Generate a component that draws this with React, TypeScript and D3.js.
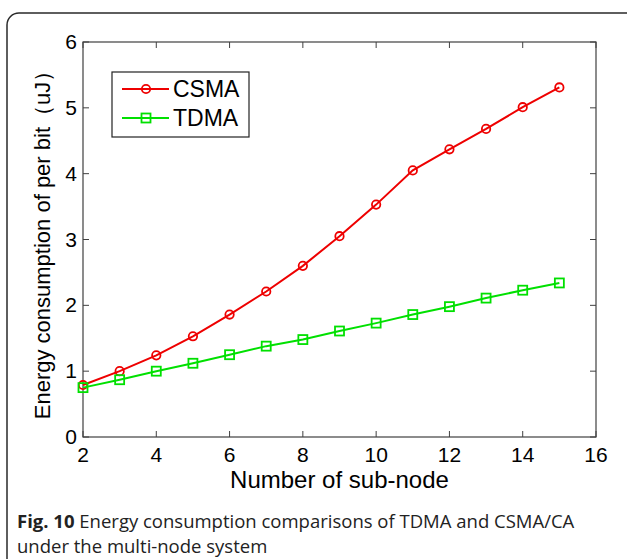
import React, { useEffect, useRef } from 'react';
import * as d3 from 'd3';

const nodes = [2, 3, 4, 5, 6, 7, 8, 9, 10, 11, 12, 13, 14, 15];
const csma = [0.79, 1.0, 1.24, 1.53, 1.86, 2.21, 2.6, 3.05, 3.53, 4.05, 4.37, 4.68, 5.01, 5.31];
const tdma = [0.75, 0.87, 1.0, 1.12, 1.25, 1.38, 1.48, 1.61, 1.73, 1.86, 1.98, 2.11, 2.23, 2.34];
const xTicks = [2, 4, 6, 8, 10, 12, 14, 16];
const yTicks = [0, 1, 2, 3, 4, 5, 6];
const seriesNames = ['CSMA', 'TDMA'];

const W = 627;
const H = 559;
const margin = { top: 42, right: 31, bottom: 122, left: 83 };

const App: React.FC = () => {
  const svgRef = useRef<SVGSVGElement>(null);

  useEffect(() => {
    if (!svgRef.current) return;
    const svg = d3.select(svgRef.current);
    svg.selectAll('*').remove();

    const innerW = W - margin.left - margin.right;
    const innerH = H - margin.top - margin.bottom;

    const x = d3.scaleLinear().domain([2, 16]).range([0, innerW]);
    const y = d3.scaleLinear().domain([0, 6]).range([innerH, 0]);

    // figure frame
    svg.append('rect')
      .attr('x', 7).attr('y', 13)
      .attr('width', 660).attr('height', 600)
      .attr('rx', 12)
      .attr('fill', 'none')
      .attr('stroke', '#2a2a2a')
      .attr('stroke-width', 1.5);

    const g = svg.append('g').attr('transform', `translate(${margin.left},${margin.top})`);
    const font = 'Liberation Sans, Arial, sans-serif';
    const axisColor = '#404040';

    // ticks inward on all sides
    const tickLen = 6;
    xTicks.forEach(t => {
      g.append('line').attr('x1', x(t)).attr('x2', x(t)).attr('y1', innerH).attr('y2', innerH - tickLen)
        .attr('stroke', axisColor);
      g.append('line').attr('x1', x(t)).attr('x2', x(t)).attr('y1', 0).attr('y2', tickLen)
        .attr('stroke', axisColor);
      g.append('text').attr('x', x(t)).attr('y', innerH + 25)
        .attr('text-anchor', 'middle').attr('font-family', font).attr('font-size', 21)
        .attr('fill', '#000').text(t);
    });
    yTicks.forEach(t => {
      g.append('line').attr('x1', 0).attr('x2', tickLen).attr('y1', y(t)).attr('y2', y(t))
        .attr('stroke', axisColor);
      g.append('line').attr('x1', innerW).attr('x2', innerW - tickLen).attr('y1', y(t)).attr('y2', y(t))
        .attr('stroke', axisColor);
      g.append('text').attr('x', -6).attr('y', y(t) + 7)
        .attr('text-anchor', 'end').attr('font-family', font).attr('font-size', 21)
        .attr('fill', '#000').text(t);
    });

    g.append('rect').attr('width', innerW).attr('height', innerH)
      .attr('fill', 'none').attr('stroke', axisColor).attr('stroke-width', 1.2);

    const line = d3.line<number>()
      .x((_, i) => x(nodes[i]))
      .y(d => y(d));

    const red = '#ee0000';
    const green = '#00e000';

    g.append('path').datum(csma).attr('d', line)
      .attr('fill', 'none').attr('stroke', red).attr('stroke-width', 2);
    g.selectAll('.c').data(csma).enter().append('circle')
      .attr('cx', (_, i) => x(nodes[i])).attr('cy', d => y(d)).attr('r', 4.2)
      .attr('fill', 'none').attr('stroke', red).attr('stroke-width', 1.8);

    g.append('path').datum(tdma).attr('d', line)
      .attr('fill', 'none').attr('stroke', green).attr('stroke-width', 2);
    g.selectAll('.s').data(tdma).enter().append('rect')
      .attr('x', (_, i) => x(nodes[i]) - 4.5).attr('y', d => y(d) - 4.5)
      .attr('width', 9).attr('height', 9)
      .attr('fill', 'none').attr('stroke', green).attr('stroke-width', 1.8);

    // legend
    const lg = svg.append('g');
    lg.append('rect').attr('x', 112).attr('y', 72).attr('width', 137).attr('height', 65)
      .attr('fill', '#fff').attr('stroke', '#222').attr('stroke-width', 1.2);
    seriesNames.forEach((name, i) => {
      const cy = 89 + i * 29;
      const col = i === 0 ? red : green;
      lg.append('line').attr('x1', 122).attr('x2', 169).attr('y1', cy).attr('y2', cy)
        .attr('stroke', col).attr('stroke-width', 2);
      if (i === 0) {
        lg.append('circle').attr('cx', 146).attr('cy', cy).attr('r', 4.2)
          .attr('fill', 'none').attr('stroke', col).attr('stroke-width', 1.8);
      } else {
        lg.append('rect').attr('x', 141.5).attr('y', cy - 4.5).attr('width', 9).attr('height', 9)
          .attr('fill', 'none').attr('stroke', col).attr('stroke-width', 1.8);
      }
      lg.append('text').attr('x', 173).attr('y', cy + 8)
        .attr('font-family', font).attr('font-size', 23).attr('fill', '#000').text(name);
    });

    // axis titles
    svg.append('text').attr('x', margin.left + innerW / 2).attr('y', 488)
      .attr('text-anchor', 'middle').attr('font-family', font).attr('font-size', 24)
      .attr('fill', '#000').text('Number of sub-node');
    svg.append('text')
      .attr('transform', `translate(50,${margin.top + innerH / 2}) rotate(-90)`)
      .attr('text-anchor', 'middle').attr('font-family', font).attr('font-size', 22)
      .attr('fill', '#000').text('Energy consumption of per bit（uJ）');

    // caption
    const cap = svg.append('text').attr('x', 17).attr('y', 528)
      .attr('font-family', 'Open Sans, sans-serif').attr('font-size', 18.5).attr('fill', '#222');
    cap.append('tspan').attr('font-weight', 'bold').text('Fig. 10');
    cap.append('tspan').text(' Energy consumption comparisons of TDMA and CSMA/CA');
    svg.append('text').attr('x', 17).attr('y', 553)
      .attr('font-family', 'Open Sans, sans-serif').attr('font-size', 18.5).attr('fill', '#222')
      .text('under the multi-node system');
  }, []);

  return (
    <svg ref={svgRef} width={W} height={H}
      style={{ position: 'absolute', left: 0, top: 0, background: '#fff' }} />
  );
};

export default App;
